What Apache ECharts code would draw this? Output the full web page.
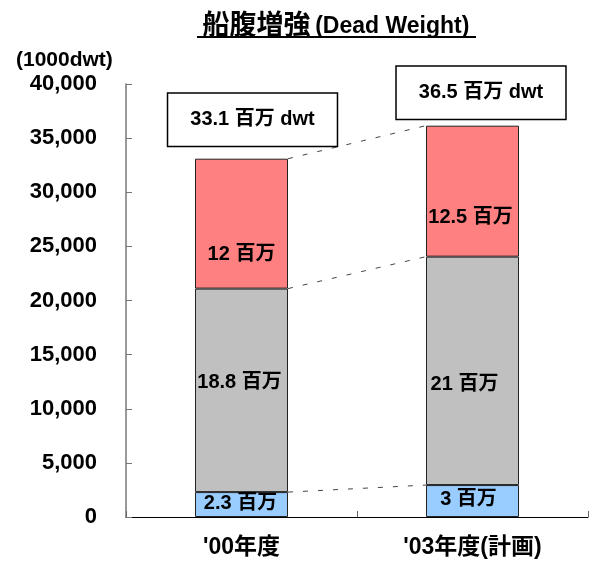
<!DOCTYPE html>
<html>
<head>
<meta charset="utf-8">
<script src="https://cdn.jsdelivr.net/npm/echarts@6/dist/echarts.min.js"></script>
<style>
  html, body { margin: 0; padding: 0; background: #fff; }
  #chart { width: 590px; height: 561px; }
</style>
</head>
<body>
<div id="chart"></div>
<script>
// data (1000dwt)
const categories = ["'00年度", "'03年度(計画)"];
const blueValues = [2300, 2950];
const grayValues = [18800, 21100];
const redValues = [12000, 12100];
const blueLabels = ['2.3 百万', '3 百万'];
const grayLabels = ['18.8 百万', '21 百万'];
const redLabels = ['12 百万', '12.5 百万'];
const totalLabels = ['33.1 百万 dwt', '36.5 百万 dwt'];
const yTicks = [0, 5000, 10000, 15000, 20000, 25000, 30000, 35000, 40000];

const FONT = '"Liberation Sans", Arial, "Noto Sans CJK JP", sans-serif';

// cumulative tops for the dashed connectors
const levels = [0, 1, 2].map(function (lv) {
  return categories.map(function (c, i) {
    let s = blueValues[i];
    if (lv >= 1) s += grayValues[i];
    if (lv >= 2) s += redValues[i];
    return s;
  });
});

const chart = echarts.init(document.getElementById('chart'));

function segLabel(texts, offsets) {
  return texts.map(function (t, i) {
    return {
      show: true,
      position: 'inside',
      formatter: t,
      offset: offsets[i],
      color: '#000',
      fontSize: 20,
      fontWeight: 'bold',
      fontFamily: FONT
    };
  });
}

function items(values, labels) {
  return values.map(function (v, i) { return { value: v, label: labels[i] }; });
}

const option = {
  animation: false,
  title: [
    {
      text: '{c|船腹増強}\u2009(Dead Weight)',
      left: 331,
      textAlign: 'center',
      top: 8,
      textStyle: {
        fontSize: 23, fontWeight: 'bold', color: '#000', fontFamily: FONT, lineHeight: 28,
        rich: { c: { fontSize: 27, fontWeight: 'bold', color: '#000', fontFamily: FONT, lineHeight: 28 } }
      }
    },
    {
      text: '(1000dwt)',
      left: 11,
      top: 45,
      textStyle: { fontSize: 21, fontWeight: 'bold', color: '#000', fontFamily: FONT }
    }
  ],
  graphic: [
    { type: 'line', shape: { x1: 197, y1: 37, x2: 476, y2: 37 }, style: { stroke: '#000', lineWidth: 2 } }
  ],
  grid: { left: 126, right: 2, top: 84, bottom: 44 },
  xAxis: {
    type: 'category',
    data: categories,
    axisLine: { lineStyle: { color: '#000', width: 1 } },
    axisTick: { show: true, inside: true, length: 6, lineStyle: { color: '#666' } },
    axisLabel: { color: '#000', fontSize: 23, fontWeight: 'bold', fontFamily: FONT, margin: 19 }
  },
  yAxis: {
    type: 'value',
    min: 0,
    max: 40000,
    interval: 5000,
    splitLine: { show: false },
    axisLine: { show: true, lineStyle: { color: '#777', width: 1.5 } },
    axisTick: { show: true, inside: true, length: 6, lineStyle: { color: '#777' } },
    axisLabel: {
      color: '#000', fontSize: 22, fontWeight: 'bold', fontFamily: FONT, margin: 29,
      customValues: yTicks,
      formatter: function (v) { return v.toLocaleString('en-US'); }
    }
  },
  series: [
    {
      name: 'blue', type: 'bar', stack: 'dw', barWidth: 93,
      itemStyle: { color: '#99CCFF', borderColor: '#222', borderWidth: 1 },
      data: items(blueValues, segLabel(blueLabels, [[-1, -1], [-4, -2]]))
    },
    {
      name: 'gray', type: 'bar', stack: 'dw', barWidth: 93,
      itemStyle: { color: '#C0C0C0', borderColor: '#222', borderWidth: 1 },
      data: items(grayValues, segLabel(grayLabels, [[-2, -8], [-8, 14]]))
    },
    {
      name: 'red', type: 'bar', stack: 'dw', barWidth: 93,
      itemStyle: { color: '#FF8080', borderColor: '#222', borderWidth: 1 },
      data: items(redValues, segLabel(redLabels, [[0, 31], [-2, 26]]))
    },
    {
      name: 'total', type: 'bar', stack: 'dw', barWidth: 93,
      itemStyle: { color: 'transparent', borderWidth: 0 },
      data: totalLabels.map(function (t, i) {
        return {
          value: 0,
          label: {
            show: true,
            position: 'top',
            formatter: t,
            distance: [13, 7][i],
            offset: [[11, 0], [8.5, 0]][i],
            color: '#000',
            fontSize: 20,
            fontWeight: 'bold',
            fontFamily: FONT,
            backgroundColor: '#fff',
            borderColor: '#000',
            borderWidth: 1.5,
            padding: [16, 22, 16, 22],
            lineHeight: 20
          }
        };
      })
    },
    {
      name: 'connect', type: 'custom', silent: true, z: 1,
      encode: { x: [0, 2], y: [1, 3] },
      data: levels.map(function (l) { return [0, l[0], 1, l[1]]; }),
      renderItem: function (params, api) {
        const a = api.coord([api.value(0), api.value(1)]);
        const b = api.coord([api.value(2), api.value(3)]);
        const half = 93 / 2;
        return {
          type: 'line',
          shape: { x1: a[0] + half, y1: a[1], x2: b[0] - half, y2: b[1] },
          style: { stroke: '#444', lineWidth: 1, lineDash: [5, 10] }
        };
      }
    }
  ]
};

chart.setOption(option);
</script>
</body>
</html>
